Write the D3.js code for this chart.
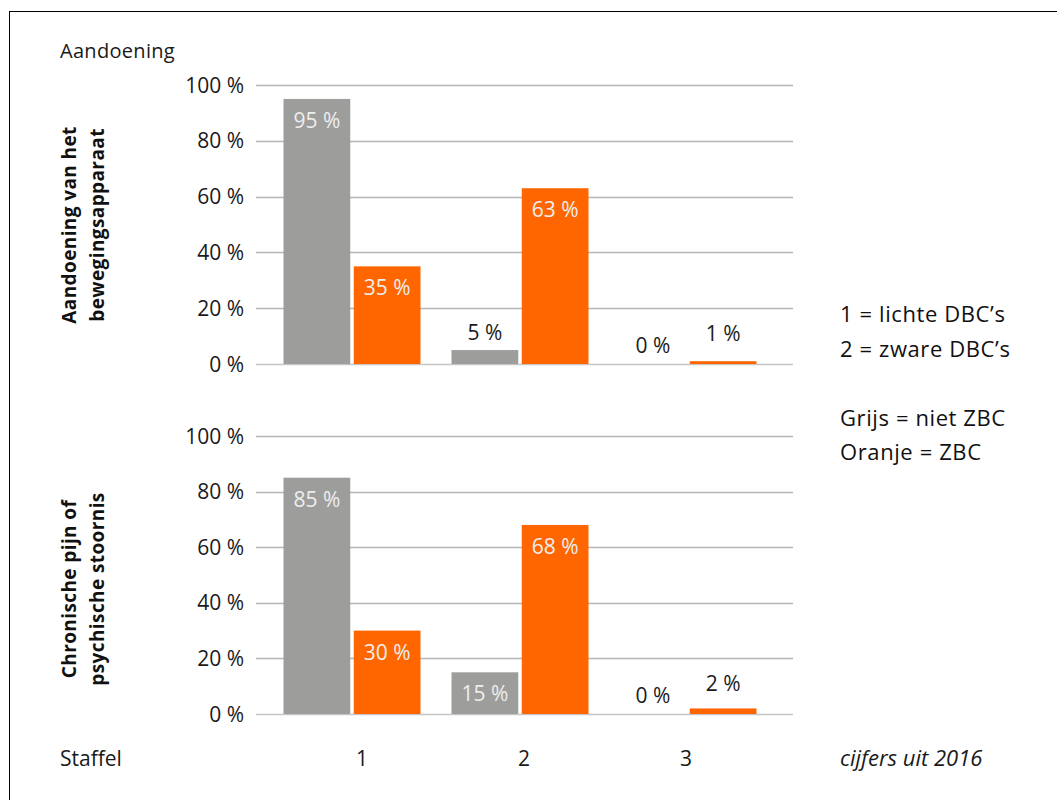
<!DOCTYPE html>
<html>
<head>
<meta charset="utf-8">
<script src="https://cdn.jsdelivr.net/npm/d3@7"></script>
<style>
  html, body { margin: 0; padding: 0; background: #fff; }
  svg { display: block; }
</style>
</head>
<body>
<div id="chart"></div>
<script>
  // Staffel categories and the two series, per panel
  const staffels = ["1", "2", "3"];
  const seriesKeys = ["grijs", "oranje"];
  const panelTitles = [
    ["Aandoening van het", "bewegingsapparaat"],
    ["Chronische pijn of", "psychische stoornis"]
  ];
  const grijsValues = [[95, 5, 0], [85, 15, 0]];
  const oranjeValues = [[35, 63, 1], [30, 68, 2]];
  const yTicks = [0, 20, 40, 60, 80, 100];
  const legendLines = ["1 = lichte DBC\u2019s", "2 = zware DBC\u2019s", "", "Grijs = niet ZBC", "Oranje = ZBC"];

  const W = 1057, H = 800;
  const FONT = "'Open Sans', 'DejaVu Sans', sans-serif";
  const COLORS = { grijs: "#9d9d9c", oranje: "#ff6600" };

  const svg = d3.select("#chart").append("svg").attr("width", W).attr("height", H);

  // frame (runs off the right and bottom edge)
  svg.append("rect").attr("x", 9.5).attr("y", 11.5).attr("width", W + 20).attr("height", H + 20)
    .attr("fill", "none").attr("stroke", "#000").attr("stroke-width", 1);

  const x0 = d3.scaleBand().domain(staffels).range([268, 772]);
  const x1 = d3.scaleBand().domain(seriesKeys).range([15.5, 152.5]).paddingInner(0.05);
  // category labels sit slightly tighter than the bar groups
  const xLab = d3.scalePoint().domain(staffels).range([362, 686]);

  const panels = [
    { top: 85, bottom: 364, titleY: 225 },
    { top: 436, bottom: 714, titleY: 589 }
  ];

  panels.forEach((p, pi) => {
    const y = d3.scaleLinear().domain([0, 100]).range([p.bottom, p.top]);
    const g = svg.append("g");

    // gridlines
    g.selectAll("line.grid").data(yTicks).join("line")
      .attr("x1", 256).attr("x2", 793)
      .attr("y1", d => Math.round(y(d)) + 0.5).attr("y2", d => Math.round(y(d)) + 0.5)
      .attr("stroke", d => d === 0 ? "#c6c6c6" : "#b5b5b5").attr("stroke-width", 1.3);

    // y tick labels
    g.selectAll("text.tick").data(yTicks).join("text")
      .attr("x", 244).attr("y", d => y(d) + 7.5)
      .attr("text-anchor", "end").attr("font-family", FONT).attr("font-size", 21)
      .attr("fill", "#1a1a1a").text(d => d + " %");

    const rows = staffels.map((s, i) => ({
      staffel: s,
      items: [
        { key: "grijs", v: grijsValues[pi][i] },
        { key: "oranje", v: oranjeValues[pi][i] }
      ]
    }));

    const groups = g.selectAll("g.grp").data(rows).join("g")
      .attr("transform", d => `translate(${x0(d.staffel)},0)`);

    groups.selectAll("rect").data(d => d.items).join("rect")
      .attr("x", d => x1(d.key)).attr("width", x1.bandwidth())
      .attr("y", d => y(d.v)).attr("height", d => y(0) - y(d.v))
      .attr("fill", d => COLORS[d.key]);

    // value labels: inside the bar when tall enough, else above it
    const inside = d => (y(0) - y(d.v)) > 35;
    groups.selectAll("text").data(d => d.items).join("text")
      .attr("x", d => x1(d.key) + x1.bandwidth() / 2)
      .attr("y", d => inside(d) ? y(d.v) + 29
        : Math.min(y(d.v) - 10, y(0) - (d.key === "oranje" ? 23 : 11)))
      .attr("text-anchor", "middle").attr("font-family", FONT).attr("font-size", 21)
      .attr("fill", d => inside(d) ? "#eeeeee" : "#1a1a1a")
      .text(d => d.v + " %");

    // rotated panel title
    const t = g.append("text")
      .attr("transform", `translate(76,${p.titleY}) rotate(-90)`)
      .attr("text-anchor", "middle").attr("font-family", FONT)
      .attr("font-size", 19).attr("font-weight", "bold").attr("letter-spacing", 0.4)
      .attr("fill", "#111");
    panelTitles[pi].forEach((line, li) => {
      t.append("tspan").attr("x", 0).attr("dy", li === 0 ? 0 : 28).text(line);
    });
  });

  // headings
  svg.append("text").attr("x", 60).attr("y", 58)
    .attr("font-family", FONT).attr("font-size", 20).attr("letter-spacing", 0.3)
    .attr("fill", "#1a1a1a").text("Aandoening");
  svg.append("text").attr("x", 60).attr("y", 766)
    .attr("font-family", FONT).attr("font-size", 21).attr("fill", "#1a1a1a").text("Staffel");

  // x category labels
  svg.selectAll("text.cat").data(staffels).join("text")
    .attr("x", d => xLab(d)).attr("y", 766)
    .attr("text-anchor", "middle").attr("font-family", FONT).attr("font-size", 21)
    .attr("fill", "#1a1a1a").text(d => d);

  svg.append("text").attr("x", 840).attr("y", 766)
    .attr("font-family", FONT).attr("font-size", 22).attr("font-style", "italic")
    .attr("fill", "#1a1a1a").text("cijfers uit 2016");

  // legend text on the right
  svg.selectAll("text.leg").data(legendLines).join("text")
    .attr("x", 840).attr("y", (d, i) => 322 + i * 34.5)
    .attr("font-family", FONT).attr("font-size", 22).attr("font-weight", 500)
    .attr("letter-spacing", 0.6).attr("fill", "#111").text(d => d);
</script>
</body>
</html>
